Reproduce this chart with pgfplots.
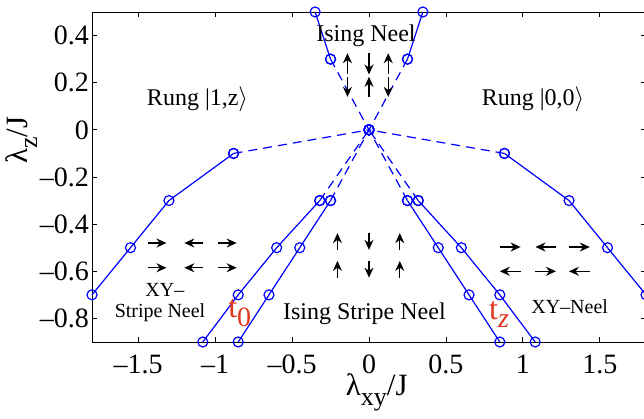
\documentclass[border=0pt]{standalone}
\usepackage{pgfplots}
\pgfplotsset{compat=1.18}
\usepackage{fontspec}
\setmainfont{Liberation Serif}
\usetikzlibrary{arrows.meta}

\definecolor{lineblue}{rgb}{0,0,1}
\definecolor{labelred}{rgb}{0.88,0.22,0.12}
\newcommand{\fs}[1]{\fontsize{#1}{#1}\selectfont}

\pgfplotsset{
  boundary/.style={color=lineblue, line width=1.2pt, mark=o, mark size=5pt,
    mark options={solid, line width=1.2pt}},
  extrap/.style={boundary, dash pattern=on 9pt off 6pt},
  spins/.style={black, line width=1.2pt, -{Stealth[length=10pt,width=9pt]},
    quiver={u=\thisrow{u}, v=\thisrow{v}}},
}

\begin{document}
\begin{tikzpicture}[x=1pt,y=1pt]
\path[use as bounding box] (-92,-76) rectangle (552,342);
\begin{axis}[
  at={(0,0)}, anchor=south west,
  scale only axis, width=554pt, height=330pt,
  xmin=-1.8, xmax=1.8, ymin=-0.9, ymax=0.5,
  xtick={-1.5,-1,-0.5,0,0.5,1,1.5},
  xticklabels={–1.5,–1,–0.5,0,0.5,1,1.5},
  ytick={-0.8,-0.6,-0.4,-0.2,0,0.2,0.4},
  yticklabels={–0.8,–0.6,–0.4,–0.2,0,0.2,0.4},
  tick align=inside, major tick length=5pt,
  tick style={black, line width=0.8pt},
  axis line style={black, line width=0.9pt},
  ticklabel style={font=\fs{28}, inner sep=1pt},
  xticklabel style={yshift=-12pt},
  yticklabel style={xshift=-2pt},
  clip=false,
]
% Rung |1,z> boundary
\addplot[boundary] coordinates {(-1.8,-0.7) (-1.55,-0.5) (-1.3,-0.3) (-0.88,-0.1)};
\addplot[extrap] coordinates {(-0.88,-0.1) (0,0)};
% Rung |0,0> boundary
\addplot[boundary] coordinates {(1.8,-0.7) (1.55,-0.5) (1.3,-0.3) (0.88,-0.1)};
\addplot[extrap] coordinates {(0.88,-0.1) (0,0)};
% Ising Neel boundaries
\addplot[boundary] coordinates {(-0.35,0.5) (-0.25,0.3)};
\addplot[extrap] coordinates {(-0.25,0.3) (0,0)};
\addplot[boundary] coordinates {(0.35,0.5) (0.25,0.3)};
\addplot[extrap] coordinates {(0.25,0.3) (0,0)};
% t_0 transitions (left)
\addplot[boundary] coordinates {(-1.08,-0.9) (-0.85,-0.7) (-0.6,-0.5) (-0.32,-0.3)};
\addplot[extrap] coordinates {(-0.32,-0.3) (0,0)};
\addplot[boundary] coordinates {(-0.85,-0.9) (-0.65,-0.7) (-0.45,-0.5) (-0.25,-0.3)};
\addplot[extrap] coordinates {(-0.25,-0.3) (0,0)};
% t_z transitions (right)
\addplot[boundary] coordinates {(0.85,-0.9) (0.65,-0.7) (0.45,-0.5) (0.25,-0.3)};
\addplot[extrap] coordinates {(0.25,-0.3) (0,0)};
\addplot[boundary] coordinates {(1.08,-0.9) (0.85,-0.7) (0.6,-0.5) (0.32,-0.3)};
\addplot[extrap] coordinates {(0.32,-0.3) (0,0)};

% spin configurations
\addplot[spins] table {
x y u v
-0.14 0.235 0 0.09
0 0.325 0 -0.09
0.125 0.235 0 0.09
-0.14 0.225 0 -0.085
0 0.14 0 0.085
0.125 0.225 0 -0.085
};
\addplot[spins] table {
x y u v
-0.205 -0.509 0 0.071
0 -0.438 0 -0.071
0.2 -0.509 0 0.071
-0.205 -0.627 0 0.071
0 -0.556 0 -0.071
0.2 -0.627 0 0.071
};
\addplot[spins] table {
x y u v
0.85 -0.497 0.135 0
1.217 -0.497 -0.135 0
1.30 -0.497 0.135 0
0.985 -0.6 -0.135 0
1.08 -0.6 0.135 0
1.434 -0.6 -0.135 0
};
\addplot[spins] table {
x y u v
-1.436 -0.48 0.12 0
-1.08 -0.48 -0.12 0
-0.98 -0.48 0.12 0
-1.436 -0.585 0.12 0
-1.08 -0.585 -0.12 0
-0.98 -0.585 0.12 0
};

% phase names
\node[anchor=base, font=\fs{24}] at (axis cs:-0.02,0.373) {Ising Neel};
\node[anchor=base, font=\fs{24}] at (axis cs:-1.114,0.105) {Rung |1,z$\rangle$};
\node[anchor=base, font=\fs{24}] at (axis cs:1.066,0.105) {Rung |0,0$\rangle$};
\node[anchor=base, font=\fs{20}] at (axis cs:-1.326,-0.705) {XY–};
\node[anchor=base, font=\fs{20}] at (axis cs:-1.358,-0.798) {Stripe Neel};
\node[anchor=base, font=\fs{24}] at (axis cs:-0.03,-0.803) {Ising Stripe Neel};
\node[anchor=base, font=\fs{20}] at (axis cs:1.304,-0.781) {XY–Neel};
\node[anchor=base, font=\fs{32}, text=labelred] at (axis cs:-0.84,-0.798) {t\raisebox{-9pt}{\fs{28}0}};
\node[anchor=base, font=\fs{32}, text=labelred] at (axis cs:0.845,-0.805) {t\raisebox{-8pt}{\fs{28}\textit{z}}};

% axis labels
\node[anchor=base, font=\fs{31}] at (rel axis cs:0.514,-0.1636) {λ\raisebox{-10pt}{\fs{26}xy}/J};
\node[anchor=base, rotate=90, font=\fs{31}] at (rel axis cs:-0.1173,0.612) {λ\raisebox{-10pt}{\fs{26}z}/J};
\end{axis}
\end{tikzpicture}
\end{document}
